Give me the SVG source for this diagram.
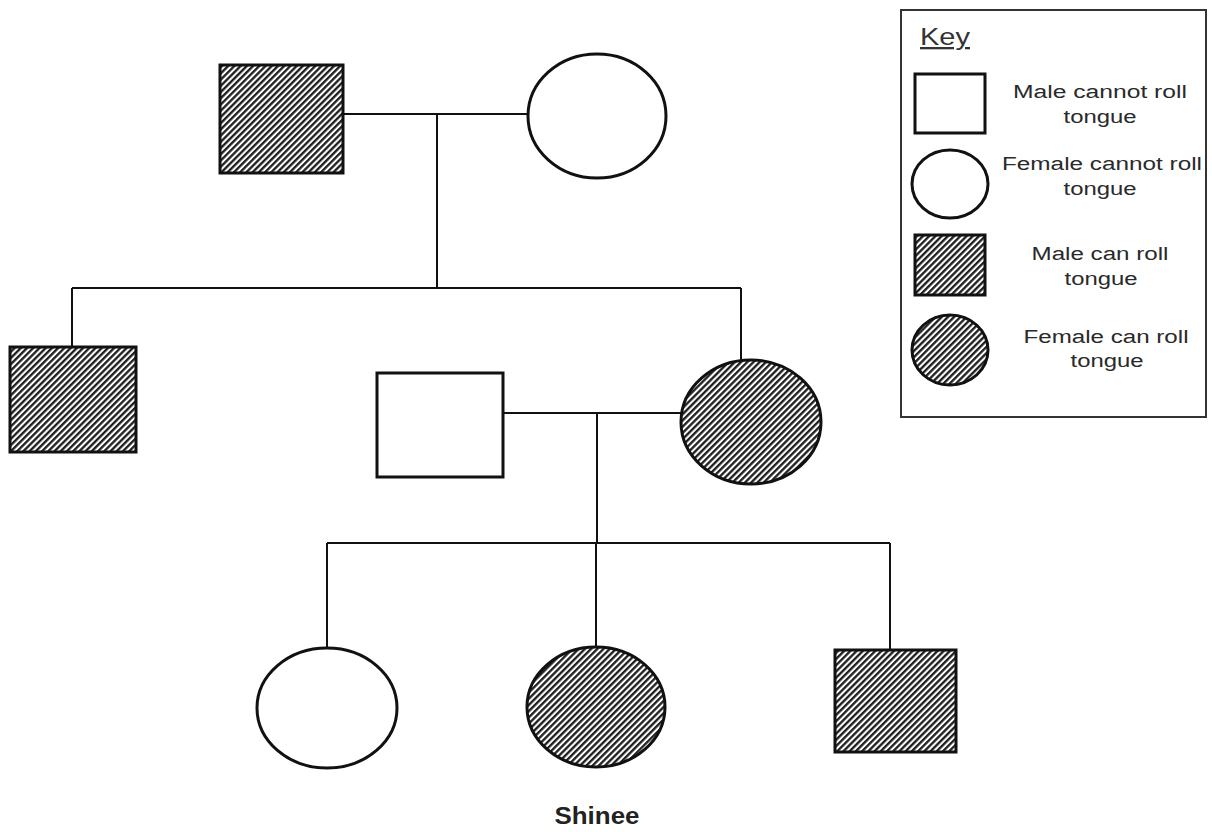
<svg xmlns="http://www.w3.org/2000/svg" width="1212" height="832" viewBox="0 0 1212 832">
<defs>
<pattern id="hatch" width="4.4" height="4.4" patternUnits="userSpaceOnUse" patternTransform="rotate(45)">
<rect width="4.4" height="4.4" fill="#fff"/>
<line x1="1.2" y1="0" x2="1.2" y2="4.4" stroke="#1a1a1a" stroke-width="2.3"/>
</pattern>
</defs>
<style>
.shape{stroke:#111;stroke-width:3;fill:#fff}
.aff{fill:url(#hatch)}
.ln{stroke:#111;stroke-width:2;fill:none}
.kt{font-family:"Liberation Sans",Arial,sans-serif;font-size:18px;fill:#2a2a2a;text-anchor:middle}
</style>
<rect width="1212" height="832" fill="#fff"/>
<g id="connectors">
<path class="ln" d="M343 114 H528"/>
<path class="ln" d="M437 114 V288"/>
<path class="ln" d="M72 288 H741"/>
<path class="ln" d="M72 288 V347"/>
<path class="ln" d="M741 288 V360"/>
<path class="ln" d="M503 413 H681"/>
<path class="ln" d="M597 413 V543"/>
<path class="ln" d="M327 543 H890"/>
<path class="ln" d="M327 543 V648"/>
<path class="ln" d="M596 543 V647"/>
<path class="ln" d="M890 543 V650"/>
</g>
<g id="gp-male"><rect class="shape aff" x="220" y="65" width="123" height="108"/></g>
<g id="gp-female"><ellipse class="shape" cx="597" cy="116" rx="69" ry="62"/></g>
<g id="son"><rect class="shape aff" x="10" y="347" width="126" height="105"/></g>
<g id="spouse-male"><rect class="shape" x="377" y="373" width="126" height="104"/></g>
<g id="daughter"><ellipse class="shape aff" cx="751" cy="422" rx="70" ry="62"/></g>
<g id="gc-female1"><ellipse class="shape" cx="327" cy="708" rx="70" ry="60"/></g>
<g id="gc-female2"><ellipse class="shape aff" cx="596" cy="707" rx="69" ry="60"/></g>
<g id="gc-male"><rect class="shape aff" x="835" y="650" width="121" height="102"/></g>
<g id="label-shinee"><text x="597" y="824" font-family="Liberation Sans, Arial, sans-serif" font-size="23" font-weight="bold" fill="#222" text-anchor="middle" textLength="85" lengthAdjust="spacingAndGlyphs">Shinee</text></g>
<g id="key">
<rect x="901" y="10" width="305" height="407" fill="#fff" stroke="#333" stroke-width="2"/>
<text x="920" y="45" font-family="Liberation Sans, Arial, sans-serif" font-size="23" fill="#333" text-decoration="underline" textLength="50" lengthAdjust="spacingAndGlyphs">Key</text>
<rect class="shape" x="915" y="74" width="70" height="59"/>
<text class="kt" x="1100" y="98" textLength="174" lengthAdjust="spacingAndGlyphs">Male cannot roll</text>
<text class="kt" x="1100" y="123" textLength="73" lengthAdjust="spacingAndGlyphs">tongue</text>
<ellipse class="shape" cx="950" cy="184" rx="38" ry="34"/>
<text class="kt" x="1102" y="170" textLength="200" lengthAdjust="spacingAndGlyphs">Female cannot roll</text>
<text class="kt" x="1100" y="195" textLength="73" lengthAdjust="spacingAndGlyphs">tongue</text>
<rect class="shape aff" x="915" y="235" width="70" height="60"/>
<text class="kt" x="1100" y="260" textLength="137" lengthAdjust="spacingAndGlyphs">Male can roll</text>
<text class="kt" x="1101" y="285" textLength="73" lengthAdjust="spacingAndGlyphs">tongue</text>
<ellipse class="shape aff" cx="950" cy="350" rx="38" ry="35"/>
<text class="kt" x="1106" y="343" textLength="165" lengthAdjust="spacingAndGlyphs">Female can roll</text>
<text class="kt" x="1107" y="367" textLength="73" lengthAdjust="spacingAndGlyphs">tongue</text>
</g>
</svg>
